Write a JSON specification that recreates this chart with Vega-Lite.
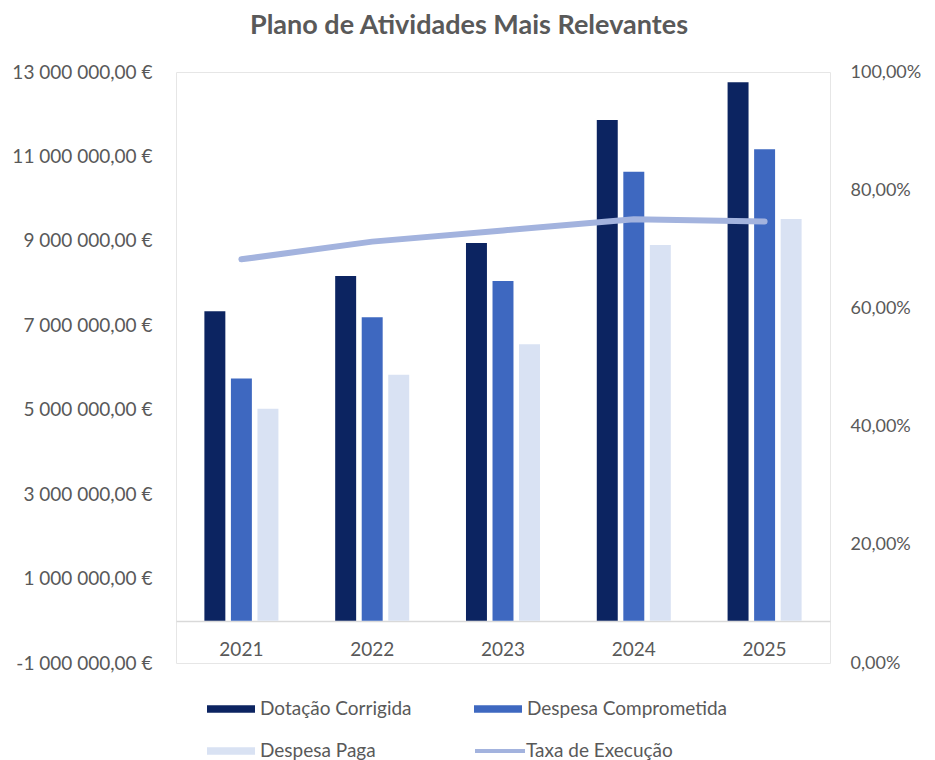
{
  "$schema": "https://vega.github.io/schema/vega-lite/v6.json",
  "width": 654,
  "height": 591,
  "autosize": {"type": "none"},
  "padding": {"left": 176, "top": 72, "right": 105, "bottom": 97},
  "background": "white",
  "config": {
    "locale": {"number": {"decimal": ",", "thousands": " ", "grouping": [3], "currency": ["", " €"], "minus": "-"}},
    "font": "Lato",
    "view": {"stroke": "#e6e6e6"},
    "axis": {"labelFont": "Lato", "labelFontSize": 19, "labelColor": "#595959", "grid": false, "ticks": false, "domain": false, "title": null}
  },
  "title": {"text": "Plano de Atividades Mais Relevantes", "fontSize": 27, "font": "Lato", "fontWeight": "bold", "color": "#595959", "anchor": "middle", "dx": -34, "dy": 13, "offset": 36},
  "datasets": {
    "bars": [
      {"ano": "2021", "serie": "Dotação Corrigida", "valor": 7330000},
      {"ano": "2021", "serie": "Despesa Comprometida", "valor": 5740000},
      {"ano": "2021", "serie": "Despesa Paga", "valor": 5020000},
      {"ano": "2022", "serie": "Dotação Corrigida", "valor": 8170000},
      {"ano": "2022", "serie": "Despesa Comprometida", "valor": 7190000},
      {"ano": "2022", "serie": "Despesa Paga", "valor": 5830000},
      {"ano": "2023", "serie": "Dotação Corrigida", "valor": 8950000},
      {"ano": "2023", "serie": "Despesa Comprometida", "valor": 8050000},
      {"ano": "2023", "serie": "Despesa Paga", "valor": 6550000},
      {"ano": "2024", "serie": "Dotação Corrigida", "valor": 11860000},
      {"ano": "2024", "serie": "Despesa Comprometida", "valor": 10640000},
      {"ano": "2024", "serie": "Despesa Paga", "valor": 8900000},
      {"ano": "2025", "serie": "Dotação Corrigida", "valor": 12760000},
      {"ano": "2025", "serie": "Despesa Comprometida", "valor": 11170000},
      {"ano": "2025", "serie": "Despesa Paga", "valor": 9520000}
    ],
    "taxa": [
      {"ano": "2021", "serie": "Taxa de Execução", "taxa": 0.683},
      {"ano": "2022", "serie": "Taxa de Execução", "taxa": 0.713},
      {"ano": "2023", "serie": "Taxa de Execução", "taxa": 0.732},
      {"ano": "2024", "serie": "Taxa de Execução", "taxa": 0.751},
      {"ano": "2025", "serie": "Taxa de Execução", "taxa": 0.747}
    ]
  },
  "layer": [
    {
      "data": {"name": "bars"},
      "encoding": {
        "x": {"field": "ano", "type": "nominal", "scale": {"paddingInner": 0.434, "paddingOuter": 0.217},
              "axis": {"orient": "bottom", "offset": -42, "domain": true, "domainColor": "#d9d9d9", "domainWidth": 1.5, "labelAngle": 0, "labelPadding": 19, "title": null}},
        "xOffset": {"field": "serie", "type": "nominal", "sort": ["Dotação Corrigida", "Despesa Comprometida", "Despesa Paga"], "scale": {"paddingInner": 0.21, "paddingOuter": 0}},
        "y": {"field": "valor", "type": "quantitative", "scale": {"domain": [-1000000, 13000000], "nice": false},
              "axis": {"values": [-1000000, 1000000, 3000000, 5000000, 7000000, 9000000, 11000000, 13000000], "format": ",.2f", "labelExpr": "datum.label + ' €'", "labelPadding": 24}},
        "y2": {"datum": 0}
      },
      "layer": [
        {
          "mark": {"type": "bar"},
          "encoding": {
            "color": {"field": "serie", "type": "nominal", "sort": ["Dotação Corrigida", "Despesa Comprometida", "Despesa Paga"],
                      "scale": {"domain": ["Dotação Corrigida", "Despesa Comprometida", "Despesa Paga"], "range": ["#0c2461", "#3e68c0", "#d9e2f3"]},
                      "legend": {"orient": "none", "legendX": 31, "legendY": 613, "direction": "horizontal", "columns": 2, "title": null, "padding": 0,
                                 "symbolType": "M-1,-0.16H1V0.16H-1Z", "symbolSize": 2304, "symbolStrokeWidth": 0,
                                 "labelFontSize": 19, "labelColor": "#595959", "labelFont": "Lato", "labelOffset": 5, "columnPadding": 62, "rowPadding": 8, "labelLimit": 300}}
          }
        }
      ]
    },
    {
      "data": {"name": "taxa"},
      "mark": {"type": "line", "strokeWidth": 6, "strokeCap": "round", "strokeJoin": "round"},
      "encoding": {
        "x": {"field": "ano", "type": "nominal"},
        "y": {"field": "taxa", "type": "quantitative", "scale": {"domain": [0, 1], "nice": false},
              "axis": {"orient": "right", "values": [0, 0.2, 0.4, 0.6, 0.8, 1], "format": ".2%", "labelPadding": 20, "labelFontSize": 18}},
        "color": {"field": "serie", "type": "nominal", "scale": {"range": ["#a3b3de"]},
                  "legend": {"orient": "none", "legendX": 297, "legendY": 652, "title": null, "padding": 0,
                             "symbolType": "M-1,0H1", "symbolSize": 2500, "symbolStrokeWidth": 4,
                             "labelFontSize": 19, "labelColor": "#595959", "labelFont": "Lato", "labelOffset": -1, "labelLimit": 300}}
      }
    }
  ],
  "resolve": {"scale": {"y": "independent", "color": "independent"}}
}
